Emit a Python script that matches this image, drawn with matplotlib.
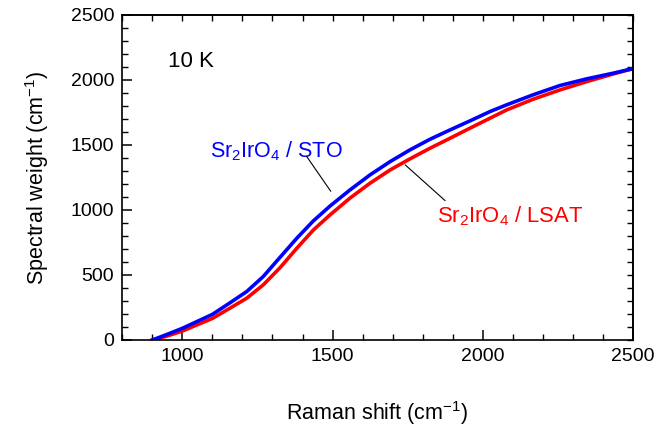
import matplotlib.pyplot as plt
from matplotlib.ticker import MultipleLocator

plt.rcParams['font.family'] = ['Liberation Sans', 'DejaVu Sans']
plt.rcParams['mathtext.fontset'] = 'custom'
plt.rcParams['mathtext.rm'] = 'Liberation Sans'
plt.rcParams['mathtext.it'] = 'Liberation Sans'

# --- data ---
sto_x = [900, 950, 1000, 1100, 1158, 1214, 1269, 1325, 1381, 1436, 1492,
         1558, 1625, 1692, 1758, 1825, 1892, 1958, 2025, 2081, 2169, 2258,
         2347, 2436, 2500]
sto_y = [0, 44, 90, 197, 285, 372, 487, 635, 782, 915, 1030,
         1153, 1269, 1371, 1461, 1543, 1615, 1684, 1756, 1808, 1885, 1956,
         2007, 2051, 2085]

lsat_x = [900, 950, 1000, 1100, 1158, 1214, 1269, 1325, 1381, 1436, 1492,
          1558, 1625, 1692, 1758, 1825, 1892, 1958, 2025, 2081, 2169, 2258,
          2347, 2436, 2500]
lsat_y = [0, 31, 69, 166, 244, 321, 423, 555, 705, 845, 962,
          1090, 1205, 1307, 1392, 1474, 1551, 1628, 1705, 1769, 1851, 1922,
          1986, 2045, 2085]

fig = plt.figure(figsize=(6.58, 4.32), dpi=100)
ax = fig.add_axes([0.186, 0.213, 0.7756, 0.753])

ax.plot(lsat_x, lsat_y, color='#ff0000', lw=2.6, solid_joinstyle='round')
ax.plot(sto_x, sto_y, color='#0000ff', lw=2.6, solid_joinstyle='round')

ax.set_xlim(800, 2500)
ax.set_ylim(0, 2500)
ax.xaxis.set_major_locator(MultipleLocator(500))
ax.xaxis.set_minor_locator(MultipleLocator(100))
ax.yaxis.set_major_locator(MultipleLocator(500))
ax.yaxis.set_minor_locator(MultipleLocator(100))
ax.tick_params(which='major', direction='in', length=7, width=1.1, labelsize=14, pad=6)
ax.tick_params(which='minor', direction='in', length=4, width=1.0)

# top / right: small ticks only
top = ax.secondary_xaxis('top')
top.xaxis.set_major_locator(MultipleLocator(100))
top.tick_params(direction='in', length=4, width=1.0, labeltop=False)
right = ax.secondary_yaxis('right')
right.yaxis.set_major_locator(MultipleLocator(100))
right.tick_params(direction='in', length=4, width=1.0, labelright=False)
for a in (ax, top, right):
    for s in a.spines.values():
        s.set_linewidth(1.2)

ax.set_xlabel(r'Raman shift (cm$^{-1}$)', fontsize=15.5, labelpad=24)
ax.set_ylabel(r'Spectral weight (cm$^{-1}$)', fontsize=15.5, labelpad=14)

ax.text(952, 2138, '10 K', fontsize=16, va='center', ha='left')

ax.text(1092, 1404, r'Sr$_2$IrO$_4$ / STO', color='#0000ff', fontsize=15.5,
        ha='left', va='baseline')
ax.annotate('', xy=(1494, 1143), xytext=(1414, 1410),
            arrowprops=dict(arrowstyle='-', color='black', lw=0.8, shrinkA=0, shrinkB=0))
ax.text(1847, 902, r'Sr$_2$IrO$_4$ / LSAT', color='#ff0000', fontsize=15.8,
        ha='left', va='baseline')
ax.annotate('', xy=(1742, 1346), xytext=(1875, 1071),
            arrowprops=dict(arrowstyle='-', color='black', lw=0.8, shrinkA=0, shrinkB=0))

fig.savefig('out.png', dpi=100)
